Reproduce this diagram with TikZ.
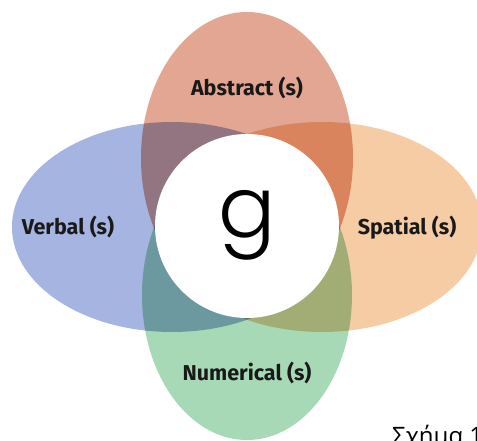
\documentclass[tikz,border=0pt]{standalone}
\usepackage{fontspec}
\setmainfont{Fira Sans}
\newfontfamily\gfont{Poppins Light}
\newfontfamily\capfont{Open Sans}
\definecolor{redc}{HTML}{E2A692}
\definecolor{bluec}{HTML}{A5B4E0}
\definecolor{orangec}{HTML}{F6CCA5}
\definecolor{greenc}{HTML}{A8D9B6}
\tikzset{
  petal/.style={draw=none},
  lbl/.style={font=\fontsize{21.5}{24}\selectfont\bfseries, text=black!90, inner sep=0pt, anchor=base},
}
\begin{document}
\begin{tikzpicture}[x=1pt,y=-1pt]
\useasboundingbox (0,0) rectangle (477,441);
\clip (0,0) rectangle (477,441);
\fill[white] (0,0) rectangle (477,441);
\begin{scope}[blend group=multiply]
  \fill[petal, redc] (247,158) ellipse [x radius=106, y radius=146];
  \fill[petal, greenc] (247,295) ellipse [x radius=105, y radius=145];
  \fill[petal, bluec] (172,227) ellipse [x radius=160, y radius=105];
  \fill[petal, orangec] (322,227) ellipse [x radius=160, y radius=105];
\end{scope}
\node[circle, fill=white, minimum size=184pt, inner sep=0pt] (g) at (247,226) {};
\node[inner sep=0pt, anchor=base, font=\gfont\fontsize{85}{88}\selectfont] (gl) at (247.5,237) {g};
\node[lbl] (abs) at (247,96) {Abstract (s)};
\node[lbl] (num) at (247,380) {Numerical (s)};
\node[lbl] (verb) at (68,235) {Verbal (s)};
\node[lbl] (spat) at (407,235) {Spatial (s)};
\node[inner sep=0pt, anchor=base west, font=\capfont\fontsize{24}{26}\selectfont] (cap) at (392,444) {Σχήμα 1};
\end{tikzpicture}
\end{document}
